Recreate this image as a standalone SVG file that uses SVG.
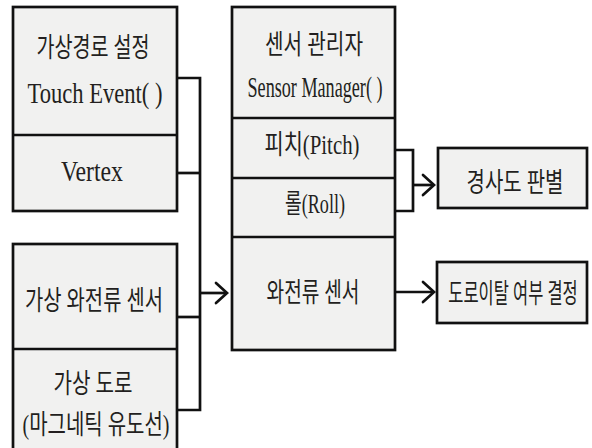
<svg xmlns="http://www.w3.org/2000/svg" width="592" height="448" viewBox="0 0 592 448">
<defs>
<style>
.box{fill:#f1f1f0;stroke:#111;stroke-width:2.7}
.div{stroke:#111;stroke-width:2.7;fill:none}
.ln{stroke:#111;stroke-width:2.7;fill:none}
.ah{stroke:#111;stroke-width:2.7;fill:none;stroke-linecap:round;stroke-linejoin:miter}
text{font-family:"Liberation Serif","Noto Sans CJK KR",serif;font-size:27px;fill:#231f20;text-anchor:middle}
.lat{font-size:29px}
</style>
</defs>
<rect width="592" height="448" fill="#fff"/>
<g id="connectors">
<polyline class="ln" points="177,78 200,78 200,410 177,410"/>
<line class="ln" x1="177" y1="173" x2="200" y2="173"/>
<line class="ln" x1="177" y1="317" x2="200" y2="317"/>
<line class="ln" x1="200" y1="293" x2="227" y2="293"/>
<polyline class="ah" points="216,283 227,293 216,303"/>
<polyline class="ln" points="395,150 413,150 413,211 395,211"/>
<line class="ln" x1="413" y1="185" x2="434" y2="185"/>
<polyline class="ah" points="423,175 434,185 423,195"/>
<line class="ln" x1="395" y1="292" x2="434" y2="292"/>
<polyline class="ah" points="423,282 434,292 423,302"/>
</g>
<g id="node-path">
<rect class="box" x="13" y="7" width="164" height="204"/>
<line class="div" x1="13" y1="135" x2="177" y2="135"/>
<text x="93" y="57" textLength="113" lengthAdjust="spacingAndGlyphs">가상경로 설정</text>
<text class="lat" x="95" y="103" textLength="135" lengthAdjust="spacingAndGlyphs">Touch Event( )</text>
<text class="lat" x="92" y="181" textLength="62" lengthAdjust="spacingAndGlyphs">Vertex</text>
</g>
<g id="node-virtual">
<rect class="box" x="13" y="244" width="164" height="210"/>
<line class="div" x1="13" y1="349" x2="177" y2="349"/>
<text x="94" y="310" textLength="138" lengthAdjust="spacingAndGlyphs">가상 와전류 센서</text>
<text x="93" y="393" textLength="79" lengthAdjust="spacingAndGlyphs">가상 도로</text>
<text x="96" y="434" textLength="147" lengthAdjust="spacingAndGlyphs">(마그네틱 유도선)</text>
</g>
<g id="node-sensor">
<rect class="box" x="232" y="7" width="163" height="343"/>
<line class="div" x1="232" y1="118" x2="395" y2="118"/>
<line class="div" x1="232" y1="178" x2="395" y2="178"/>
<line class="div" x1="232" y1="237" x2="395" y2="237"/>
<text x="314" y="54" textLength="98" lengthAdjust="spacingAndGlyphs">센서 관리자</text>
<text class="lat" x="315" y="97" textLength="135" lengthAdjust="spacingAndGlyphs">Sensor Manager( )</text>
<text x="312" y="154" textLength="95" lengthAdjust="spacingAndGlyphs">피치(Pitch)</text>
<text x="315" y="213" textLength="60" lengthAdjust="spacingAndGlyphs">롤(Roll)</text>
<text x="313" y="302" textLength="93" lengthAdjust="spacingAndGlyphs">와전류 센서</text>
</g>
<g id="node-slope">
<rect class="box" x="438" y="148" width="149" height="60"/>
<text transform="translate(515,192) scale(0.74,1)">경사도 판별</text>
</g>
<g id="node-departure">
<rect class="box" x="437" y="262" width="150" height="61"/>
<text transform="translate(513,303) scale(0.61,1)">도로이탈 여부 결정</text>
</g>
</svg>
